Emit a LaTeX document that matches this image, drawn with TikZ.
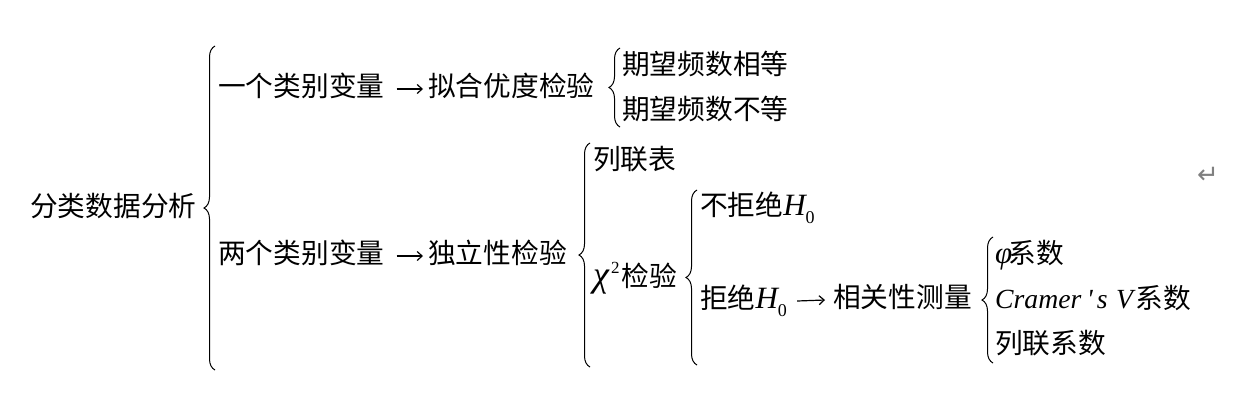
\documentclass[tikz,border=0pt]{standalone}
\usepackage{fontspec}
\setmainfont{Liberation Serif}[Ligatures=TeXOff]
\newfontfamily\cjk{Noto Sans CJK SC}
\newfontfamily\symfont{DejaVu Sans}
\usetikzlibrary{decorations.pathreplacing,arrows.meta}
\newcommand{\mi}[1]{{\fontsize{31}{31}\selectfont\itshape #1}}
\newcommand{\bigmi}[1]{{\fontsize{36}{36}\selectfont\itshape #1}}
\newcommand{\hsub}[1]{\raisebox{-8pt}{\fontsize{18}{18}\selectfont #1}}
\newcommand{\hsup}[1]{\raisebox{13pt}{\fontsize{17}{17}\selectfont #1}}
\begin{document}
\begin{tikzpicture}[x=1pt,y=-1pt,
  lbl/.style={anchor=base west,inner sep=0pt,font=\fontsize{27.7}{30}\selectfont},
  brc/.style={decorate,decoration={brace,amplitude=11pt},line width=1pt},
  arr/.style={-{Straight Barb[length=5pt,width=9pt]},line width=1.2pt}]
\useasboundingbox (0,0) rectangle (1258,413);
\node[lbl] (root) at (30,216) {\cjk 分类数据分析};
\node[lbl] (one) at (218,96) {\cjk 一个类别变量};
\node[lbl] (fit) at (428,96) {\cjk 拟合优度检验};
\node[lbl] (eq) at (622,74) {\cjk 期望频数相等};
\node[lbl] (neq) at (622,119) {\cjk 期望频数不等};
\node[lbl] (two) at (218,263) {\cjk 两个类别变量};
\node[lbl] (ind) at (428,263) {\cjk 独立性检验};
\node[lbl] (tab) at (593,169) {\cjk 列联表};
\node[lbl] (chi) at (593,286) {\bigmi{χ}\kern2pt\hsup{2}\kern2pt{\cjk 检验}};
\node[lbl] (nrej) at (700,215) {{\cjk 不拒绝}\mi{H}\hsub{0}};
\node[lbl] (rej) at (700,308) {{\cjk 拒绝}\mi{H}\hsub{0}};
\node[lbl] (corr) at (833,307) {\cjk 相关性测量};
\node[lbl] (phi) at (995,263) {\mi{φ}\kern-4pt{\cjk 系数}};
\node[lbl] (cv) at (995,308) {\textit{Cramer\hspace{0.2em}'\hspace{0.15em}s\hspace{0.3em}V}{\cjk 系数}};
\node[lbl] (cc) at (995,353) {\cjk 列联系数};
\node[anchor=center,inner sep=0pt,text=gray,font=\symfont\fontsize{26}{26}\selectfont] (ret) at (1208,175) {↵};
\draw[arr] ([shift={(12,-7)}]one.base east) -- ([shift={(-5,-7)}]fit.base west);
\draw[arr] ([shift={(12,-7)}]two.base east) -- ([shift={(-5,-7)}]ind.base west);
\draw[arr] ([shift={(10,-7)}]rej.base east) -- ([shift={(-8,-7)}]corr.base west);
\draw[brc] (215,370) -- (215,46);
\draw[brc] (620,127) -- (620,48);
\draw[brc] (590,367) -- (590,143);
\draw[brc] (697,365) -- (697,190);
\draw[brc] (993,363) -- (993,237);
\end{tikzpicture}
\end{document}
